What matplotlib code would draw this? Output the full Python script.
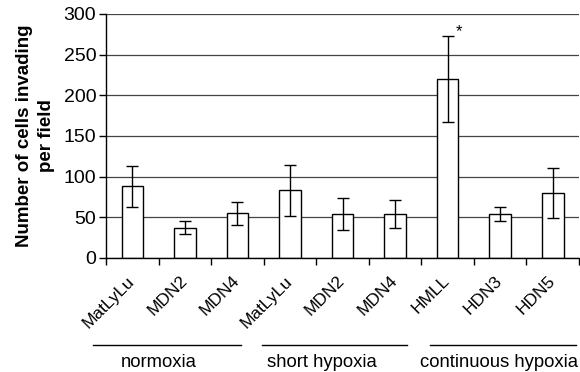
import numpy as np
import matplotlib.pyplot as plt
import matplotlib.transforms as mtransforms

plt.rcParams['font.family'] = ['Liberation Sans', 'DejaVu Sans']

# Data
cells = ['MatLyLu', 'MDN2', 'MDN4', 'MatLyLu', 'MDN2', 'MDN4', 'HMLL', 'HDN3', 'HDN5']
means = [88, 37, 55, 83, 54, 54, 220, 54, 80]
errs = [25, 8, 14, 31, 20, 17, 53, 9, 31]
groups = ['normoxia', 'short hypoxia', 'continuous hypoxia']
group_start = [-0.74, 2.46, 5.66]     # bracket lines under the labels, in bar units
group_end = [2.06, 5.23, 8.44]
group_text_x = [0.50, 3.60, 6.97]
yticks = [0, 50, 100, 150, 200, 250, 300]

fig = plt.figure(figsize=(5.8, 3.72), dpi=100)
ax = fig.add_axes([0.1828, 0.3065, 0.8155, 0.656])

x = np.arange(len(cells))
ax.set_axisbelow(True)
ax.yaxis.grid(True, color='#444444', linewidth=0.9)
ax.bar(x, means, width=0.41, color='white', edgecolor='black', linewidth=1.0,
       yerr=errs, error_kw=dict(ecolor='black', elinewidth=1.0, capsize=4, capthick=1.0))
# significance marker on HMLL
k = cells.index('HMLL')
ax.text(x[k] + 0.22, means[k] + errs[k] + 5, '*', ha='center', va='center', fontsize=12)

ax.set_xlim(-0.5, len(cells) - 0.5)
ax.set_ylim(0, 300)
ax.set_yticks(yticks)
ax.tick_params(axis='y', labelsize=14, length=5, width=1, direction='out', pad=2)
ax.set_xticks(np.arange(len(cells) + 1) - 0.5)
ax.set_xticklabels([])
ax.tick_params(axis='x', length=5, width=1, direction='out')
ax.set_xticks(x, minor=True)
ax.set_xticklabels(cells, minor=True, rotation=45, ha='right', va='top',
                   rotation_mode='anchor', fontsize=12.5)
ax.tick_params(axis='x', which='minor', length=0, pad=11)
for lab in ax.get_xticklabels(minor=True):
    lab.set_transform(lab.get_transform() + mtransforms.ScaledTranslation(-0.055, 0, fig.dpi_scale_trans))

ax.spines['right'].set_visible(False)
ax.spines['top'].set_visible(False)
ax.spines['left'].set_linewidth(1)
ax.spines['bottom'].set_linewidth(1)

ax.set_ylabel('Number of cells invading\nper field', fontsize=13.5, fontweight='bold',
              labelpad=6, linespacing=1.4)

# group brackets under the tick labels
trans = mtransforms.blended_transform_factory(ax.transData, ax.transAxes)
for name, x0, x1, xt in zip(groups, group_start, group_end, group_text_x):
    ax.plot([x0, x1], [-0.357, -0.357], color='black', linewidth=1.0,
            transform=trans, clip_on=False)
    ax.text(xt, -0.447, name, transform=trans, ha='center', va='baseline', fontsize=13.3)

fig.savefig('out.png', dpi=100)
